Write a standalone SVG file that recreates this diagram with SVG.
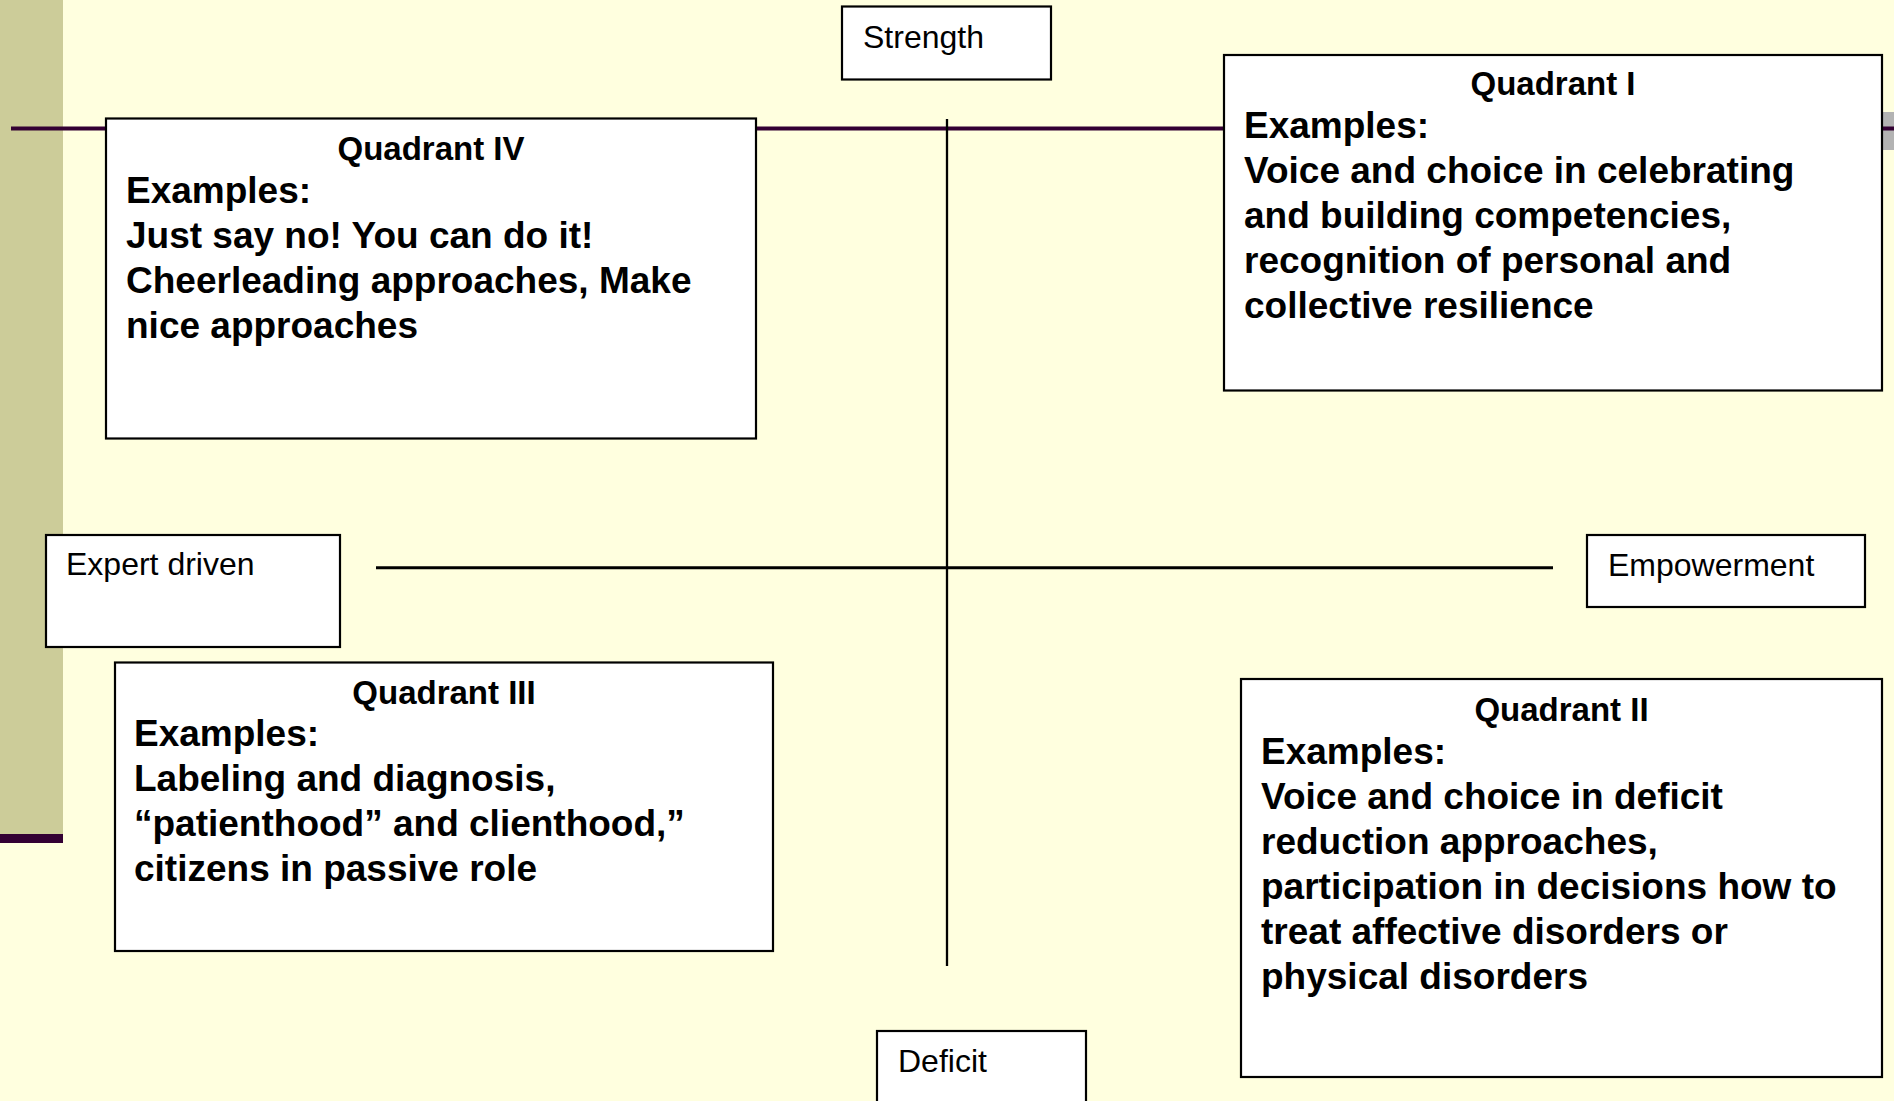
<svg xmlns="http://www.w3.org/2000/svg" width="1894" height="1101" viewBox="0 0 1894 1101">
<style>
.box{fill:#ffffff;stroke:#000000;stroke-width:2.2}
.lbl{font-family:"Liberation Sans",Arial,sans-serif;font-size:32px;fill:#000}
.ttl{font-family:"Liberation Sans",Arial,sans-serif;font-size:33px;font-weight:bold;fill:#000;text-anchor:middle}
.body{font-family:"Liberation Sans",Arial,sans-serif;font-size:37px;font-weight:bold;fill:#000}
.axis{stroke:#000;fill:none}
</style>
<rect x="0" y="0" width="1894" height="1101" fill="#ffffdf"/>
<g id="decor">
<rect x="0" y="0" width="63" height="834" fill="#cccc99"/>
<rect x="0" y="834" width="63" height="9" fill="#330033"/>
<rect x="1882" y="112" width="12" height="38" fill="#b3b3b3"/>
<line x1="11" y1="128.5" x2="1894" y2="128.5" stroke="#330033" stroke-width="4"/>
</g>
<g id="connectors">
<line class="axis" x1="947" y1="119" x2="947" y2="966" stroke-width="2.3"/>
<line class="axis" x1="376" y1="567.7" x2="1553" y2="567.7" stroke-width="3"/>
</g>
<g id="strength">
<rect class="box" x="842" y="6.5" width="209" height="73"/>
<text class="lbl" x="863" y="48">Strength</text>
</g>
<g id="deficit">
<rect class="box" x="877" y="1031" width="209" height="90"/>
<text class="lbl" x="898" y="1072">Deficit</text>
</g>
<g id="expert">
<rect class="box" x="46" y="535" width="294" height="112"/>
<text class="lbl" x="66" y="575">Expert driven</text>
</g>
<g id="empowerment">
<rect class="box" x="1587" y="535" width="278" height="72"/>
<text class="lbl" x="1608" y="576">Empowerment</text>
</g>
<g id="quadrant4">
<rect class="box" x="106" y="118.5" width="650" height="320"/>
<text class="ttl" x="431" y="160">Quadrant IV</text>
<text class="body" x="126" y="203">Examples:</text>
<text class="body" x="126" y="248">Just say no! You can do it!</text>
<text class="body" x="126" y="293">Cheerleading approaches, Make</text>
<text class="body" x="126" y="338">nice approaches</text>
</g>
<g id="quadrant1">
<rect class="box" x="1224" y="55" width="658" height="335.5"/>
<text class="ttl" x="1553" y="95">Quadrant I</text>
<text class="body" x="1244" y="138">Examples:</text>
<text class="body" x="1244" y="183">Voice and choice in celebrating</text>
<text class="body" x="1244" y="228">and building competencies,</text>
<text class="body" x="1244" y="273">recognition of personal and</text>
<text class="body" x="1244" y="318">collective resilience</text>
</g>
<g id="quadrant3">
<rect class="box" x="115" y="662.5" width="658" height="288.5"/>
<text class="ttl" x="444" y="704">Quadrant III</text>
<text class="body" x="134" y="746">Examples:</text>
<text class="body" x="134" y="791">Labeling and diagnosis,</text>
<text class="body" x="134" y="836">“patienthood” and clienthood,”</text>
<text class="body" x="134" y="881">citizens in passive role</text>
</g>
<g id="quadrant2">
<rect class="box" x="1241" y="679" width="641" height="398"/>
<text class="ttl" x="1561.5" y="721">Quadrant II</text>
<text class="body" x="1261" y="764">Examples:</text>
<text class="body" x="1261" y="809">Voice and choice in deficit</text>
<text class="body" x="1261" y="854">reduction approaches,</text>
<text class="body" x="1261" y="899">participation in decisions how to</text>
<text class="body" x="1261" y="944">treat affective disorders or</text>
<text class="body" x="1261" y="989">physical disorders</text>
</g>
</svg>
